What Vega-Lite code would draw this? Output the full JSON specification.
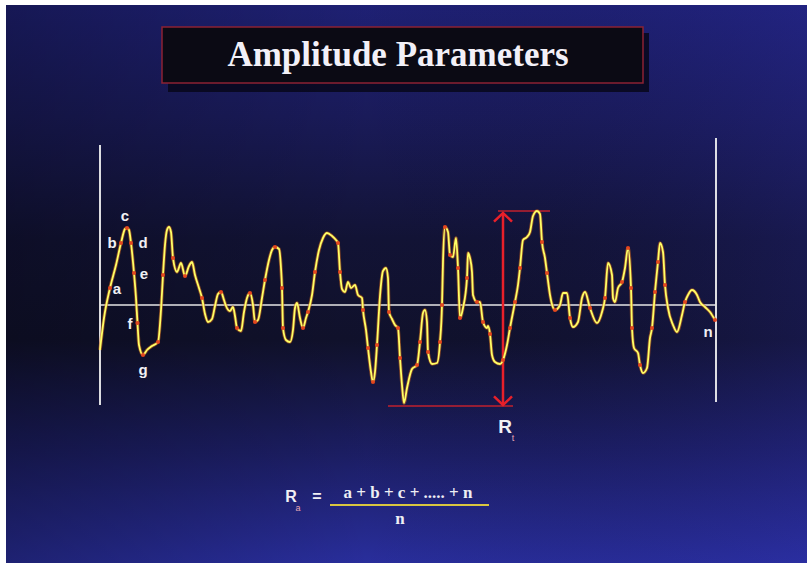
{
  "$schema": "https://vega.github.io/schema/vega-lite/v6.json",
  "width": 807,
  "height": 563,
  "autosize": {"type": "fit", "contains": "padding"},
  "padding": 0,
  "background": "#ffffff",
  "config": {"view": {"stroke": null}},
  "datasets": {
    "profile": [
      {"d":0,"h":-45,"m":0},{"d":4,"h":-13,"m":0},{"d":10,"h":17,"m":1},{"d":16,"h":40,"m":0},{"d":21,"h":62,"m":1},
      {"d":25,"h":76,"m":0},{"d":27,"h":77,"m":1},{"d":29,"h":75,"m":0},{"d":31,"h":62,"m":1},{"d":34,"h":32,"m":1},
      {"d":36,"h":7,"m":0},{"d":37.5,"h":-18,"m":1},{"d":39,"h":-40,"m":0},{"d":43,"h":-50,"m":1},{"d":47,"h":-45,"m":0},
      {"d":52,"h":-41,"m":0},{"d":58,"h":-37,"m":1},{"d":61,"h":-5,"m":0},{"d":63,"h":30,"m":1},{"d":65,"h":60,"m":0},
      {"d":67,"h":75,"m":0},{"d":69,"h":78,"m":0},{"d":71,"h":73,"m":0},{"d":73,"h":47,"m":1},{"d":77,"h":33,"m":0},
      {"d":81,"h":42,"m":0},{"d":85,"h":29,"m":1},{"d":89,"h":39,"m":0},{"d":92,"h":43,"m":0},{"d":95,"h":30,"m":0},
      {"d":99,"h":17,"m":0},{"d":102,"h":7,"m":1},{"d":105,"h":-9,"m":0},{"d":108,"h":-17,"m":0},{"d":112,"h":-14,"m":0},
      {"d":115,"h":-1,"m":0},{"d":118,"h":11,"m":0},{"d":121,"h":13,"m":1},{"d":124,"h":5,"m":0},{"d":126,"h":-1,"m":0},
      {"d":130,"h":-6,"m":0},{"d":133,"h":-2,"m":0},{"d":135,"h":-11,"m":0},{"d":137,"h":-23,"m":1},{"d":141,"h":-26,"m":0},
      {"d":144,"h":-7,"m":0},{"d":147,"h":7,"m":0},{"d":150,"h":12,"m":1},{"d":153,"h":0,"m":0},{"d":155,"h":-17,"m":1},
      {"d":158,"h":-15,"m":0},{"d":162,"h":7,"m":0},{"d":165,"h":25,"m":1},{"d":169,"h":45,"m":0},{"d":172,"h":55,"m":0},
      {"d":175,"h":58,"m":1},{"d":179,"h":56,"m":0},{"d":181,"h":37,"m":0},{"d":182,"h":17,"m":1},{"d":183,"h":-23,"m":1},
      {"d":186,"h":-35,"m":0},{"d":190,"h":-37,"m":0},{"d":193,"h":-25,"m":0},{"d":195,"h":-3,"m":0},{"d":197,"h":2,"m":0},
      {"d":200,"h":-13,"m":0},{"d":203,"h":-23,"m":1},{"d":206,"h":-13,"m":0},{"d":208,"h":-7,"m":1},{"d":212,"h":10,"m":0},
      {"d":215,"h":33,"m":1},{"d":219,"h":55,"m":0},{"d":223,"h":67,"m":0},{"d":227,"h":72,"m":0},{"d":232,"h":69,"m":0},
      {"d":236,"h":65,"m":0},{"d":238,"h":62,"m":1},{"d":240,"h":33,"m":1},{"d":242,"h":16,"m":0},{"d":245,"h":13,"m":0},
      {"d":248,"h":23,"m":0},{"d":251,"h":17,"m":0},{"d":255,"h":20,"m":0},{"d":258,"h":10,"m":0},{"d":262,"h":7,"m":0},
      {"d":263,"h":-5,"m":1},{"d":266,"h":-25,"m":0},{"d":268,"h":-43,"m":1},{"d":271,"h":-67,"m":0},{"d":273,"h":-77,"m":1},
      {"d":275,"h":-67,"m":0},{"d":277,"h":-40,"m":1},{"d":280,"h":9,"m":0},{"d":283,"h":34,"m":0},{"d":286,"h":37,"m":0},
      {"d":288,"h":27,"m":0},{"d":289,"h":-7,"m":1},{"d":292,"h":-14,"m":0},{"d":295,"h":-20,"m":0},{"d":298,"h":-23,"m":1},
      {"d":300,"h":-53,"m":1},{"d":302,"h":-80,"m":0},{"d":304,"h":-98,"m":0},{"d":307,"h":-83,"m":0},{"d":312,"h":-64,"m":0},
      {"d":317,"h":-60,"m":1},{"d":320,"h":-37,"m":1},{"d":323,"h":-8,"m":0},{"d":325,"h":-5,"m":0},{"d":327,"h":-17,"m":0},
      {"d":328,"h":-47,"m":1},{"d":332,"h":-59,"m":0},{"d":337,"h":-58,"m":0},{"d":340,"h":-37,"m":1},{"d":342,"h":0,"m":1},
      {"d":343,"h":43,"m":0},{"d":345,"h":78,"m":1},{"d":348,"h":73,"m":0},{"d":350,"h":50,"m":1},{"d":353,"h":48,"m":0},
      {"d":356,"h":67,"m":0},{"d":358,"h":37,"m":1},{"d":360,"h":-13,"m":1},{"d":363,"h":-3,"m":0},{"d":367,"h":27,"m":1},
      {"d":368,"h":52,"m":0},{"d":370,"h":47,"m":0},{"d":372,"h":33,"m":0},{"d":373,"h":10,"m":0},{"d":377,"h":3,"m":1},
      {"d":380,"h":3,"m":0},{"d":383,"h":-17,"m":1},{"d":387,"h":-23,"m":0},{"d":388,"h":-21,"m":0},{"d":390,"h":-29,"m":1},
      {"d":392,"h":-50,"m":0},{"d":395,"h":-57,"m":0},{"d":400,"h":-59,"m":0},{"d":403,"h":-55,"m":1},{"d":407,"h":-40,"m":0},
      {"d":410,"h":-23,"m":1},{"d":415,"h":3,"m":1},{"d":418,"h":20,"m":0},{"d":420,"h":37,"m":1},{"d":423,"h":65,"m":0},
      {"d":427,"h":68,"m":0},{"d":430,"h":73,"m":0},{"d":433,"h":89,"m":0},{"d":437,"h":94,"m":0},{"d":440,"h":91,"m":0},
      {"d":442,"h":63,"m":1},{"d":445,"h":47,"m":0},{"d":447,"h":32,"m":1},{"d":450,"h":10,"m":0},{"d":455,"h":-5,"m":1},
      {"d":460,"h":0,"m":0},{"d":463,"h":12,"m":0},{"d":467,"h":12,"m":0},{"d":470,"h":-13,"m":1},{"d":473,"h":-22,"m":0},
      {"d":478,"h":-17,"m":0},{"d":482,"h":7,"m":0},{"d":485,"h":13,"m":0},{"d":490,"h":-3,"m":1},{"d":497,"h":-18,"m":0},
      {"d":502,"h":-7,"m":0},{"d":505,"h":7,"m":1},{"d":508,"h":42,"m":0},{"d":512,"h":30,"m":0},{"d":513,"h":7,"m":0},
      {"d":515,"h":3,"m":0},{"d":518,"h":17,"m":0},{"d":522,"h":23,"m":1},{"d":525,"h":37,"m":0},{"d":528,"h":57,"m":1},
      {"d":531,"h":17,"m":1},{"d":532,"h":-23,"m":1},{"d":534,"h":-43,"m":0},{"d":538,"h":-48,"m":0},{"d":540,"h":-60,"m":1},
      {"d":543,"h":-68,"m":0},{"d":547,"h":-63,"m":0},{"d":550,"h":-33,"m":0},{"d":552,"h":-23,"m":1},{"d":555,"h":13,"m":1},
      {"d":558,"h":43,"m":1},{"d":560,"h":62,"m":0},{"d":563,"h":53,"m":0},{"d":565,"h":20,"m":1},{"d":568,"h":-3,"m":0},
      {"d":573,"h":-20,"m":0},{"d":577,"h":-27,"m":0},{"d":582,"h":-10,"m":0},{"d":585,"h":3,"m":1},{"d":588,"h":10,"m":0},
      {"d":592,"h":15,"m":0},{"d":597,"h":10,"m":0},{"d":600,"h":3,"m":0},{"d":605,"h":-2,"m":0},{"d":610,"h":-7,"m":0},
      {"d":615,"h":-15,"m":1}
    ],
    "bg": [{"d":-94,"d2":707,"h":-258,"h2":300}],
    "titleShadow": [{"d":68,"d2":549,"h":213,"h2":272}],
    "titleBox": [{"d":62,"d2":543,"h":222,"h2":278}],
    "titleText": [{"d":298,"h":250,"label":"Amplitude Parameters"}],
    "verticals": [{"d":0,"h":160,"h2":-100},{"d":616,"h":167,"h2":-97}],
    "meanLine": [{"d":0,"d2":616,"h":0}],
    "rtArrow": [{"d":403,"h":91,"h2":-99}],
    "rtLimits": [{"d":398,"d2":450,"h":94},{"d":288,"d2":413,"h":-101}],
    "arrowUp": [{"d":403,"h":92}],
    "arrowDown": [{"d":403,"h":-100}],
    "letters": [
      {"d":17,"h":16,"label":"a"},{"d":12,"h":62,"label":"b"},{"d":25,"h":89,"label":"c"},
      {"d":43,"h":62,"label":"d"},{"d":44,"h":31,"label":"e"},{"d":30,"h":-19,"label":"f"},
      {"d":43,"h":-65,"label":"g"},{"d":608,"h":-27,"label":"n"}
    ],
    "bigR": [{"d":405,"h":-122,"label":"R","size":19},{"d":191,"h":-192,"label":"R","size":16},{"d":217,"h":-192,"label":"=","size":16}],
    "subs": [{"d":413,"h":-133,"label":"t"},{"d":198,"h":-203,"label":"a"}],
    "formula": [{"d":308,"h":-188,"label":"a + b + c + ..... + n"},{"d":300,"h":-214,"label":"n"}],
    "fracLine": [{"d":230,"d2":389,"h":-200}]
  },
  "encoding": {
    "x": {"field": "d", "type": "quantitative", "scale": {"domain": [-100, 707], "nice": false, "zero": false}, "axis": null},
    "y": {"field": "h", "type": "quantitative", "scale": {"domain": [-258, 305], "nice": false, "zero": false}, "axis": null}
  },
  "layer": [
    {
      "data": {"name": "bg"},
      "mark": {"type": "rect", "color": {"gradient": "linear", "x1": 0, "y1": 0, "x2": 0, "y2": 1,
        "stops": [
          {"offset": 0, "color": "#20227a"},
          {"offset": 0.2, "color": "#1b1c5e"},
          {"offset": 0.42, "color": "#131438"},
          {"offset": 0.6, "color": "#11122e"},
          {"offset": 0.8, "color": "#1d1f68"},
          {"offset": 1, "color": "#2b30a4"}
        ]}},
      "encoding": {"x2": {"field": "d2"}, "y2": {"field": "h2"}}
    },
    {
      "data": {"name": "bg"},
      "mark": {"type": "rect", "color": {"gradient": "linear", "x1": 0, "y1": 0, "x2": 1, "y2": 0,
        "stops": [
          {"offset": 0, "color": "rgba(0,0,0,0.3)"},
          {"offset": 0.45, "color": "rgba(0,0,0,0.05)"},
          {"offset": 1, "color": "rgba(40,40,150,0.25)"}
        ]}},
      "encoding": {"x2": {"field": "d2"}, "y2": {"field": "h2"}}
    },
    {
      "data": {"name": "titleShadow"},
      "mark": {"type": "rect", "color": "#07071a", "opacity": 0.85},
      "encoding": {"x2": {"field": "d2"}, "y2": {"field": "h2"}}
    },
    {
      "data": {"name": "titleBox"},
      "mark": {"type": "rect", "fill": "#0b0a14", "stroke": "#8c2233", "strokeWidth": 1.5},
      "encoding": {"x2": {"field": "d2"}, "y2": {"field": "h2"}}
    },
    {
      "data": {"name": "titleText"},
      "mark": {"type": "text", "font": "Liberation Serif", "fontWeight": "bold", "fontSize": 35, "color": "#f2f0f8", "align": "center", "baseline": "middle"},
      "encoding": {"text": {"field": "label"}}
    },
    {
      "data": {"name": "verticals"},
      "mark": {"type": "rule", "color": "#f4f4f4", "strokeWidth": 1.8},
      "encoding": {"y2": {"field": "h2"}}
    },
    {
      "data": {"name": "meanLine"},
      "mark": {"type": "rule", "color": "#e6e6e6", "strokeWidth": 1.5},
      "encoding": {"x2": {"field": "d2"}}
    },
    {
      "data": {"name": "rtLimits"},
      "mark": {"type": "rule", "color": "#c0202e", "strokeWidth": 1.5},
      "encoding": {"x2": {"field": "d2"}}
    },
    {
      "data": {"name": "rtArrow"},
      "mark": {"type": "rule", "color": "#e8202a", "strokeWidth": 2.5},
      "encoding": {"y2": {"field": "h2"}}
    },
    {
      "data": {"name": "arrowUp"},
      "mark": {"type": "point", "shape": "M-1,0.95L0,0L1,0.95", "filled": false, "color": "#e8202a", "strokeWidth": 2.5, "size": 324, "opacity": 1},
      "encoding": {}
    },
    {
      "data": {"name": "arrowDown"},
      "mark": {"type": "point", "shape": "M-1,-0.95L0,0L1,-0.95", "filled": false, "color": "#e8202a", "strokeWidth": 2.5, "size": 324, "opacity": 1},
      "encoding": {}
    },
    {
      "data": {"name": "profile"},
      "mark": {"type": "line", "color": "#c8641e", "strokeWidth": 3.5, "opacity": 0.6, "interpolate": "monotone"},
      "encoding": {}
    },
    {
      "data": {"name": "profile"},
      "mark": {"type": "line", "color": "#ffff66", "strokeWidth": 1.8, "interpolate": "monotone"},
      "encoding": {}
    },
    {
      "data": {"name": "profile"},
      "transform": [{"filter": "datum.m == 1"}],
      "mark": {"type": "circle", "color": "#e0401c", "size": 18, "opacity": 0.95},
      "encoding": {}
    },
    {
      "data": {"name": "letters"},
      "mark": {"type": "text", "font": "Liberation Sans", "fontWeight": "bold", "fontSize": 15, "color": "#f0f0f4", "align": "center", "baseline": "middle"},
      "encoding": {"text": {"field": "label"}}
    },
    {
      "data": {"name": "bigR"},
      "mark": {"type": "text", "font": "Liberation Sans", "fontWeight": "bold", "color": "#f0f0f4", "align": "center", "baseline": "middle"},
      "encoding": {"text": {"field": "label"}, "size": {"field": "size", "type": "quantitative", "scale": null}}
    },
    {
      "data": {"name": "subs"},
      "mark": {"type": "text", "font": "Liberation Sans", "fontSize": 9, "color": "#e8a8b4", "align": "center", "baseline": "middle"},
      "encoding": {"text": {"field": "label"}}
    },
    {
      "data": {"name": "formula"},
      "mark": {"type": "text", "font": "Liberation Serif", "fontWeight": "bold", "fontSize": 17, "color": "#eeeef4", "align": "center", "baseline": "middle"},
      "encoding": {"text": {"field": "label"}}
    },
    {
      "data": {"name": "fracLine"},
      "mark": {"type": "rule", "color": "#d9c640", "strokeWidth": 2},
      "encoding": {"x2": {"field": "d2"}}
    }
  ]
}
